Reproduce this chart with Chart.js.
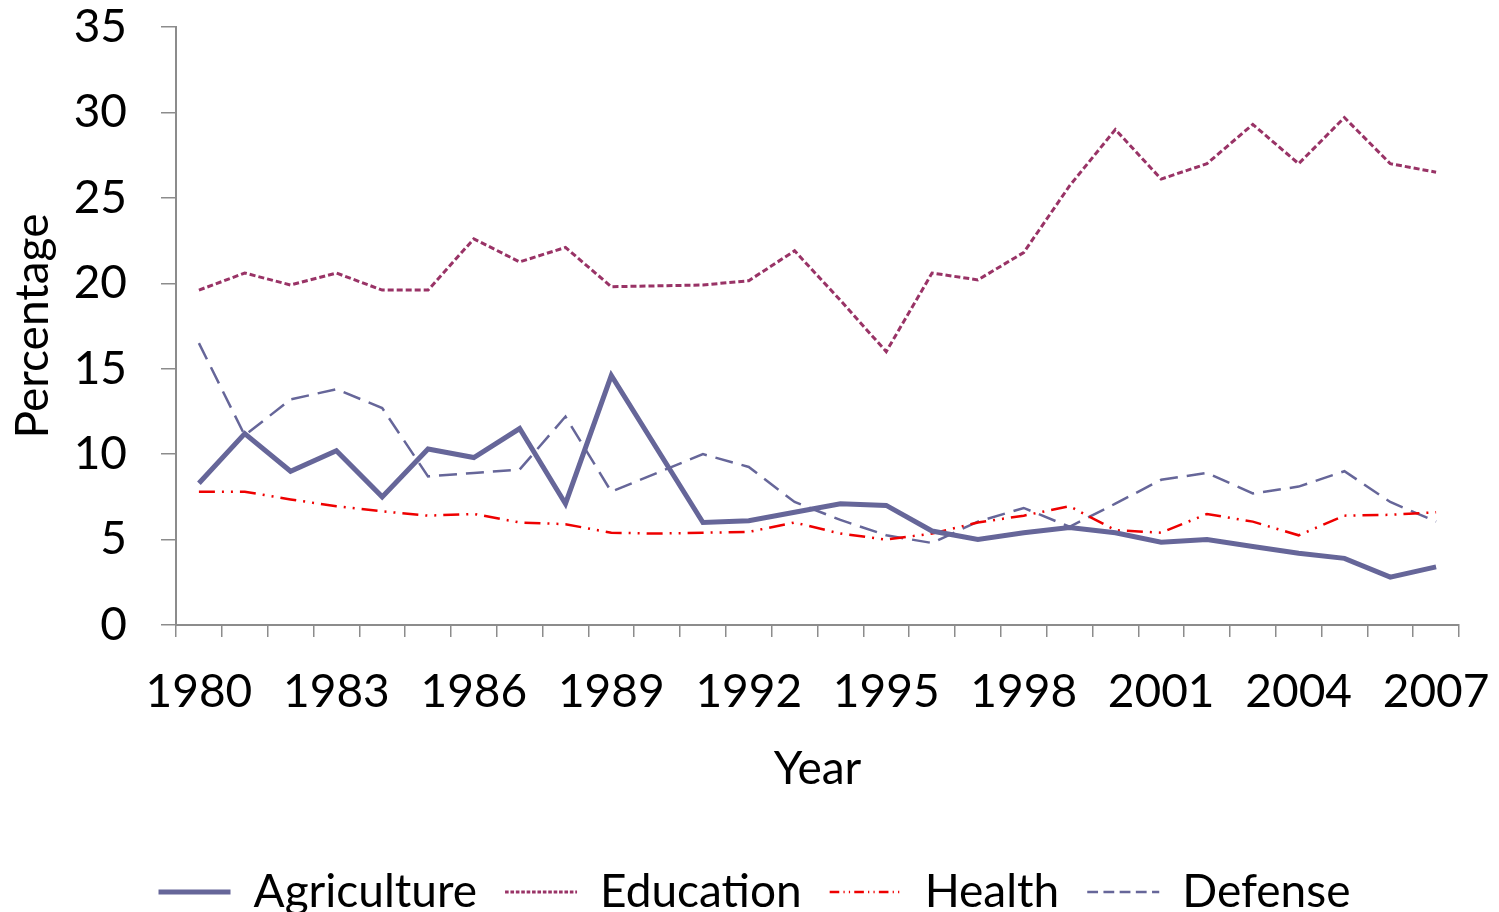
<!DOCTYPE html>
<html>
<head>
<meta charset="utf-8">
<script src="https://cdn.jsdelivr.net/npm/chart.js@4/dist/chart.umd.min.js"></script>
<style>
  html, body { margin: 0; padding: 0; background: #fff; }
  #wrap { width: 1499px; height: 912px; }
</style>
</head>
<body>
<div id="wrap"><canvas id="lineChart" width="1499" height="912"></canvas></div>
<script>
const years = [
  1980, 1981, 1982, 1983, 1984, 1985, 1986, 1987, 1988, 1989,
  1990, 1991, 1992, 1993, 1994, 1995, 1996, 1997, 1998, 1999,
  2000, 2001, 2002, 2003, 2004, 2005, 2006, 2007,
];
const agriculture = [
  8.3, 11.2, 9.0, 10.2, 7.5, 10.3, 9.8, 11.5, 7.1, 14.6,
  10.3, 6.0, 6.1, 6.6, 7.1, 7.0, 5.5, 5.0, 5.4, 5.7,
  5.4, 4.85, 5.0, 4.6, 4.2, 3.9, 2.8, 3.4,
];
const education = [
  19.6, 20.6, 19.9, 20.6, 19.6, 19.6, 22.6, 21.25, 22.1, 19.8,
  19.85, 19.9, 20.15, 21.9, 19.0, 16.0, 20.6, 20.2, 21.8, 25.7,
  29.0, 26.1, 27.0, 29.3, 27.0, 29.7, 27.0, 26.5,
];
const health = [
  7.8, 7.8, 7.35, 6.95, 6.65, 6.4, 6.5, 6.0, 5.9, 5.4,
  5.35, 5.4, 5.45, 6.0, 5.35, 5.0, 5.35, 6.0, 6.4, 6.95,
  5.55, 5.4, 6.5, 6.05, 5.25, 6.4, 6.45, 6.6,
];
const defense = [
  16.5, 11.1, 13.2, 13.8, 12.7, 8.7, 8.9, 9.1, 12.2, 7.8,
  8.9, 10.0, 9.25, 7.2, 6.15, 5.25, 4.8, 6.05, 6.85, 5.75,
  7.1, 8.5, 8.9, 7.7, 8.1, 9.0, 7.2, 6.05,
];
const yTicks = [0, 5, 10, 15, 20, 25, 30, 35];

const FONT = "Lato, 'Noto Sans', sans-serif";
const axisGray = "#8c8c8c";

// legend box is narrowed by the right padding, push it back to the page centre
const legendShift = {
  id: "legendShift",
  beforeDraw(chart) {
    chart.legend.left += 25;
    chart.legend.right += 25;
  },
};

const ctxLine = document.getElementById("lineChart").getContext("2d");
const lineChartInstance = new Chart(ctxLine, {
  type: "line",
  data: {
    labels: years,
    datasets: [
      {
        label: "Agriculture",
        data: agriculture,
        borderColor: "#666699",
        backgroundColor: "#666699",
        borderWidth: 5,
        pointRadius: 0,
        tension: 0,
      },
      {
        label: "Education",
        data: education,
        borderColor: "#993366",
        backgroundColor: "#993366",
        borderWidth: 3,
        borderDash: [6, 3],
        pointRadius: 0,
        tension: 0,
      },
      {
        label: "Health",
        data: health,
        borderColor: "#ee0000",
        backgroundColor: "#ee0000",
        borderWidth: 2.5,
        borderDash: [16, 7, 2, 7, 2, 7],
        pointRadius: 0,
        tension: 0,
      },
      {
        label: "Defense",
        data: defense,
        borderColor: "#666699",
        backgroundColor: "#666699",
        borderWidth: 2.5,
        borderDash: [18, 9],
        pointRadius: 0,
        tension: 0,
      },
    ],
  },
  plugins: [legendShift],
  options: {
    responsive: false,
    animation: false,
    layout: { padding: { top: 27, right: 40, left: 0, bottom: -13 } },
    plugins: {
      tooltip: { enabled: false },
      legend: {
        position: "bottom",
        labels: {
          usePointStyle: true,
          pointStyle: "line",
          pointStyleWidth: 72,
          boxWidth: 72,
          boxHeight: 10,
          padding: 28,
          color: "#000",
          font: { family: FONT, size: 46 },
          generateLabels: (chart) => {
            const items = Chart.defaults.plugins.legend.labels.generateLabels(chart);
            items.forEach((item) => {
              const ds = chart.data.datasets[item.datasetIndex];
              item.lineDash = ds.borderDash ? ds.borderDash.map((d) => d * 0.6) : [];
              item.lineWidth = ds.borderWidth;
              item.strokeStyle = ds.borderColor;
            });
            return items;
          },
        },
      },
    },
    scales: {
      x: {
        offset: true,
        afterFit: (scale) => {
          scale.height = 216;
          scale.paddingLeft = 0;
          scale.paddingRight = 0;
        },
        border: { color: axisGray, width: 2 },
        grid: {
          offset: true,
          drawOnChartArea: false,
          drawTicks: true,
          tickLength: 12,
          color: axisGray,
          lineWidth: 1.5,
        },
        ticks: {
          autoSkip: false,
          maxRotation: 0,
          padding: 28,
          color: "#000",
          font: { family: FONT, size: 46 },
          callback: function (value, index) {
            return index % 3 === 0 ? this.getLabelForValue(value) : "";
          },
        },
        title: {
          display: true,
          text: "Year",
          color: "#000",
          font: { family: FONT, size: 46 },
          padding: { top: 0, bottom: 44 },
        },
      },
      y: {
        min: 0,
        max: 35,
        afterFit: (scale) => {
          scale.width = 176;
          scale.paddingTop = 0;
          scale.paddingBottom = 0;
        },
        afterBuildTicks: (scale) => {
          scale.ticks = yTicks.map((v) => ({ value: v }));
        },
        border: { color: axisGray, width: 2 },
        grid: {
          drawOnChartArea: false,
          drawTicks: true,
          tickLength: 15,
          color: axisGray,
          lineWidth: 1.5,
        },
        ticks: {
          padding: 34,
          color: "#000",
          font: { family: FONT, size: 46 },
        },
        title: {
          display: true,
          text: "Percentage",
          color: "#000",
          font: { family: FONT, size: 46 },
          padding: { top: 6, bottom: 0 },
        },
      },
    },
  },
});
</script>
</body>
</html>
